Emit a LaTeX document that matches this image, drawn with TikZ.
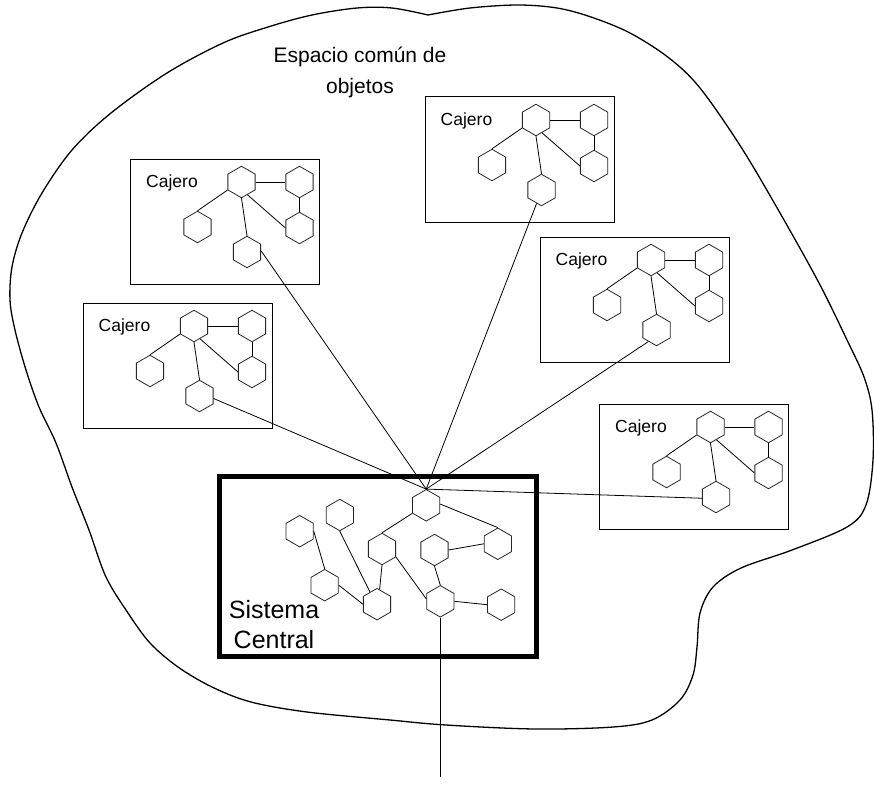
\documentclass[tikz,border=0pt]{standalone}
\usepackage{fontspec}
\setmainfont{Liberation Sans}
\usetikzlibrary{shapes.geometric}
\begin{document}
\begin{tikzpicture}[x=1pt,y=-1pt,
  hexa/.style={regular polygon, regular polygon sides=6, shape border rotate=90,
    draw=black!85, line width=0.8pt, minimum size=31.5pt, inner sep=0pt},
  link/.style={draw, line width=0.8pt},
  cajbox/.style={draw, line width=1pt, minimum width=189pt, minimum height=125pt, inner sep=0pt},
  cajtext/.style={font=\fontsize{17.5}{21}\selectfont, inner sep=0pt, anchor=base west},
  centralbox/.style={draw, line width=5pt, minimum width=316.7pt, minimum height=180.3pt, inner sep=0pt},
  blob/.style={draw, line width=1.3pt},
  cajero/.pic={
    \node[cajbox] (-box) at (94.5,62.5) {};
    \node[cajtext] (-lbl) at (15.5,28.6) {Cajero};
    \node[hexa] (-h1) at (111,23) {};
    \node[hexa] (-h2) at (169,23) {};
    \node[hexa] (-h3) at (169,69) {};
    \node[hexa] (-h4) at (67,68) {};
    \node[hexa] (-h5) at (116.5,93) {};
    \draw[link] (-h1.0) -- (-h2.180);
    \draw[link] (-h2.270) -- (-h3.90);
    \draw[link] (-h1.-65) -- (-h3.180);
    \draw[link] (-h1.210) -- (-h4.90);
    \draw[link] (-h1.270) -- (-h5.90);
  }
]
\useasboundingbox (0,0) rectangle (874,789);

% shared object space
\draw[blob] plot[smooth, tension=0.55] coordinates {
  (428,15) (470,8) (518,5) (557,8) (591,17) (630,33) (669,58) (700,88)
  (741,147) (780,213) (819,283) (847,340) (864,377) (872,410) (873,460)
  (866,505) (847,527) (792,550) (741,568) (713,587) (700,613) (697,647)
  (693,675) (680,700) (652,720) (613,727) (535,729) (446,725) (390,720)
  (307,712) (251,702) (212,687) (178,667) (150,643) (128,613) (106,577)
  (89,530) (72,487) (56,443) (39,407) (26,370) (15,330) (10,300) (12,267)
  (22,233) (42,193) (72,150) (111,113) (167,73) (223,43) (268,27) (312,15)
  (357,8) (392,8) (428,15)};

% the base anchor of a two-line node sits on its last line
\node[font=\fontsize{21}{30.5}\selectfont, align=center, anchor=base] (title)
  at (360,93.3) {Espacio común de\\objetos};

% teller machines
\pic (A) at (130.5,159) {cajero};
\pic (B) at (83,303) {cajero};
\pic (C) at (425,97) {cajero};
\pic (D) at (540,237) {cajero};
\pic (E) at (599.5,404) {cajero};

% central system
\node[centralbox] (central) at (378.2,566.7) {};
\node[font=\fontsize{25}{30}\selectfont, align=center, anchor=base] (clabel)
  at (274,648.3) {Sistema\\Central};

\node[hexa] (S1) at (426.2,505.3) {};
\node[hexa] (S2) at (497.8,543.8) {};
\node[hexa] (S3) at (382,549) {};
\node[hexa] (S4) at (434.5,550) {};
\node[hexa] (S5) at (299.7,531.2) {};
\node[hexa] (S6) at (339.8,515) {};
\node[hexa] (S7) at (324.7,585.2) {};
\node[hexa] (S8) at (377,604.2) {};
\node[hexa] (S9) at (440.3,601.3) {};
\node[hexa] (S10) at (501.2,604.7) {};
\coordinate (tail) at (440.3,777);

\draw[link] (S1.210) -- (S3.90);
\draw[link] (S1.5) -- (S2.90);
\draw[link] (S4.0) -- (S2.180);
\draw[link] (S5.0) -- (S7.90);
\draw[link] (S6.270) -- (S8.120);
\draw[link] (S3.270) -- (S8.80);
\draw[link] (S7.0) -- (S8.180);
\draw[link] (S3.-30) -- (S9.170);
\draw[link] (S4.270) -- (S9.90);
\draw[link] (S9.0) -- (S10.180);
\draw[link] (S9.270) -- (tail);

% links from each teller to the central hub
\draw[link] (A-h5.5) -- (S1.90);
\draw[link] (B-h5.-10) -- (S1.90);
\draw[link] (C-h5.250) -- (S1.90);
\draw[link] (D-h5.235) -- (S1.90);
\draw[link] (E-h5.185) -- (S1.90);
\end{tikzpicture}
\end{document}
